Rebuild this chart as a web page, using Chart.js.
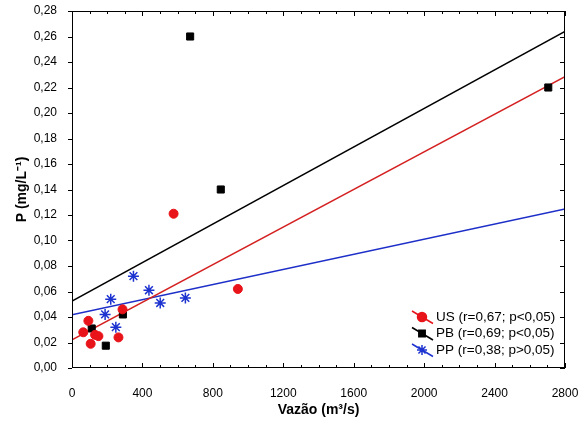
<!DOCTYPE html>
<html>
<head>
<meta charset="utf-8">
<script src="https://cdn.jsdelivr.net/npm/chart.js@4.4.1/dist/chart.umd.min.js"></script>
<style>
  body { margin: 0; background: #fff; }
  canvas { display: block; }
</style>
</head>
<body>
<canvas id="pChart" width="581" height="428"></canvas>
<script>
// Flow (m3/s) vs phosphorus (mg/L) for the three sites
const usX = [64, 93, 106, 131, 150, 264, 287, 577, 942];
const usY = [0.028, 0.037, 0.019, 0.026, 0.025, 0.024, 0.046, 0.121, 0.062];

const pbX = [112, 192, 289, 671, 845, 2705];
const pbY = [0.031, 0.0175, 0.042, 0.260, 0.140, 0.220];

const ppX = [188, 220, 249, 349, 437, 501, 644];
const ppY = [0.042, 0.054, 0.032, 0.072, 0.061, 0.051, 0.055];

// regression lines, start and end of the x range
const fitX = [0, 2800];
const usFit = [0.022, 0.2285];
const pbFit = [0.0525, 0.264];
const ppFit = [0.0418, 0.1247];

const legendLabels = ['US (r=0,67; p<0,05)', 'PB (r=0,69; p<0,05)', 'PP (r=0,38; p>0,05)'];

const xTicks = [0, 400, 800, 1200, 1600, 2000, 2400, 2800];
const yTicks = [0, 0.02, 0.04, 0.06, 0.08, 0.10, 0.12, 0.14, 0.16, 0.18, 0.20, 0.22, 0.24, 0.26, 0.28];

const FONT = "'Liberation Sans', Arial, sans-serif";
const RED = '#e8141a';
const BLUE = '#1d33d0';

const pts = (xs, ys) => xs.map((v, i) => ({x: v, y: ys[i]}));

// frame around the plot, ticks pointing inward on top/right/bottom
const frameTicks = {
    id: 'frameTicks',
    afterDraw(chart) {
        const {ctx, chartArea: a, scales: {x, y}} = chart;
        ctx.save();
        ctx.strokeStyle = '#000';
        ctx.lineWidth = 1;
        ctx.strokeRect(Math.round(a.left) + 0.5, Math.round(a.top) + 0.5, Math.round(a.width) - 1, Math.round(a.height) - 1);
        ctx.beginPath();
        for (let v = 0; v <= 2800; v += 100) {
            const px = Math.round(x.getPixelForValue(v)) + 0.5;
            const len = v % 400 === 0 ? 5 : 3;
            ctx.moveTo(px, a.bottom); ctx.lineTo(px, a.bottom - len);
            ctx.moveTo(px, a.top); ctx.lineTo(px, a.top + len);
        }
        yTicks.forEach(v => {
            const py = Math.round(y.getPixelForValue(v)) + 0.5;
            ctx.moveTo(a.left - 4, py); ctx.lineTo(a.left, py);
            ctx.moveTo(a.right, py); ctx.lineTo(a.right - 5, py);
        });
        ctx.stroke();
        ctx.restore();
    }
};

// legend in the lower right corner of the plot: slanted line with marker
const cornerLegend = {
    id: 'cornerLegend',
    afterDraw(chart) {
        const {ctx, chartArea: a} = chart;
        const rows = [
            {color: RED, style: 'circle', r: 4.5},
            {color: '#000', style: 'rect', r: 4.5},
            {color: BLUE, style: 'star', r: 5}
        ];
        ctx.save();
        ctx.font = '13.5px ' + FONT;
        ctx.textBaseline = 'middle';
        rows.forEach((row, i) => {
            const cy = a.bottom - 51 + i * 16.5;
            const cx = a.left + 350;
            ctx.strokeStyle = row.color;
            ctx.lineWidth = 1.5;
            ctx.beginPath();
            ctx.moveTo(cx - 10, cy - 6);
            ctx.lineTo(cx + 11, cy + 6.5);
            ctx.stroke();
            ctx.fillStyle = row.color;
            Chart.helpers.drawPoint(ctx, {
                pointStyle: row.style, radius: row.r, rotation: 0, borderWidth: 1.5
            }, cx, cy);
            ctx.fillStyle = '#000';
            ctx.fillText(legendLabels[i], cx + 14, cy);
        });
        ctx.restore();
    }
};

new Chart(document.getElementById('pChart'), {
    type: 'scatter',
    data: {
        datasets: [
            {label: 'US', data: pts(usX, usY), pointStyle: 'circle', pointRadius: 4.5,
             backgroundColor: RED, borderColor: RED, order: 1},
            {label: 'PB', data: pts(pbX, pbY), pointStyle: 'rect', pointRadius: 5,
             backgroundColor: '#000', borderColor: '#000', order: 1},
            {label: 'PP', data: pts(ppX, ppY), pointStyle: 'star', pointRadius: 5.5, borderWidth: 1.5,
             backgroundColor: BLUE, borderColor: BLUE, order: 1},
            {label: 'US fit', data: pts(fitX, usFit), showLine: true, pointRadius: 0,
             borderColor: '#d42020', borderWidth: 1.5, order: 2},
            {label: 'PB fit', data: pts(fitX, pbFit), showLine: true, pointRadius: 0,
             borderColor: '#000', borderWidth: 1.5, order: 2},
            {label: 'PP fit', data: pts(fitX, ppFit), showLine: true, pointRadius: 0,
             borderColor: '#1d2fc8', borderWidth: 1.5, order: 2}
        ]
    },
    options: {
        responsive: false,
        animation: false,
        layout: {padding: {top: 11, right: 16, left: 0, bottom: 0}},
        plugins: {
            legend: {display: false},
            tooltip: {enabled: false}
        },
        scales: {
            x: {
                type: 'linear',
                min: 0,
                max: 2800,
                afterBuildTicks: s => { s.ticks = xTicks.map(v => ({value: v})); },
                ticks: {color: '#000', font: {size: 12, family: FONT}, padding: 10,
                        callback: v => String(v)},
                grid: {display: false},
                border: {display: false},
                title: {display: true, text: 'Vazão (m³/s)', color: '#000',
                        font: {size: 14, weight: 'bold', family: FONT}, padding: {top: 0, bottom: 9}},
                afterFit: s => { s.height = 60; s.paddingLeft = 0; s.paddingRight = 0; }
            },
            y: {
                min: 0,
                max: 0.28,
                afterBuildTicks: s => { s.ticks = yTicks.map(v => ({value: v})); },
                ticks: {color: '#000', font: {size: 12, family: FONT}, padding: 7,
                        callback: v => v.toFixed(2).replace('.', ',')},
                grid: {display: false},
                border: {display: false},
                title: {display: true, text: 'P (mg/L⁻¹)', color: '#000',
                        font: {size: 14, weight: 'bold', family: FONT}, padding: {top: 14, bottom: 0}},
                afterFit: s => { s.width = 72; s.paddingTop = 0; s.paddingBottom = 0; }
            }
        }
    },
    plugins: [frameTicks, cornerLegend]
});
</script>
</body>
</html>
